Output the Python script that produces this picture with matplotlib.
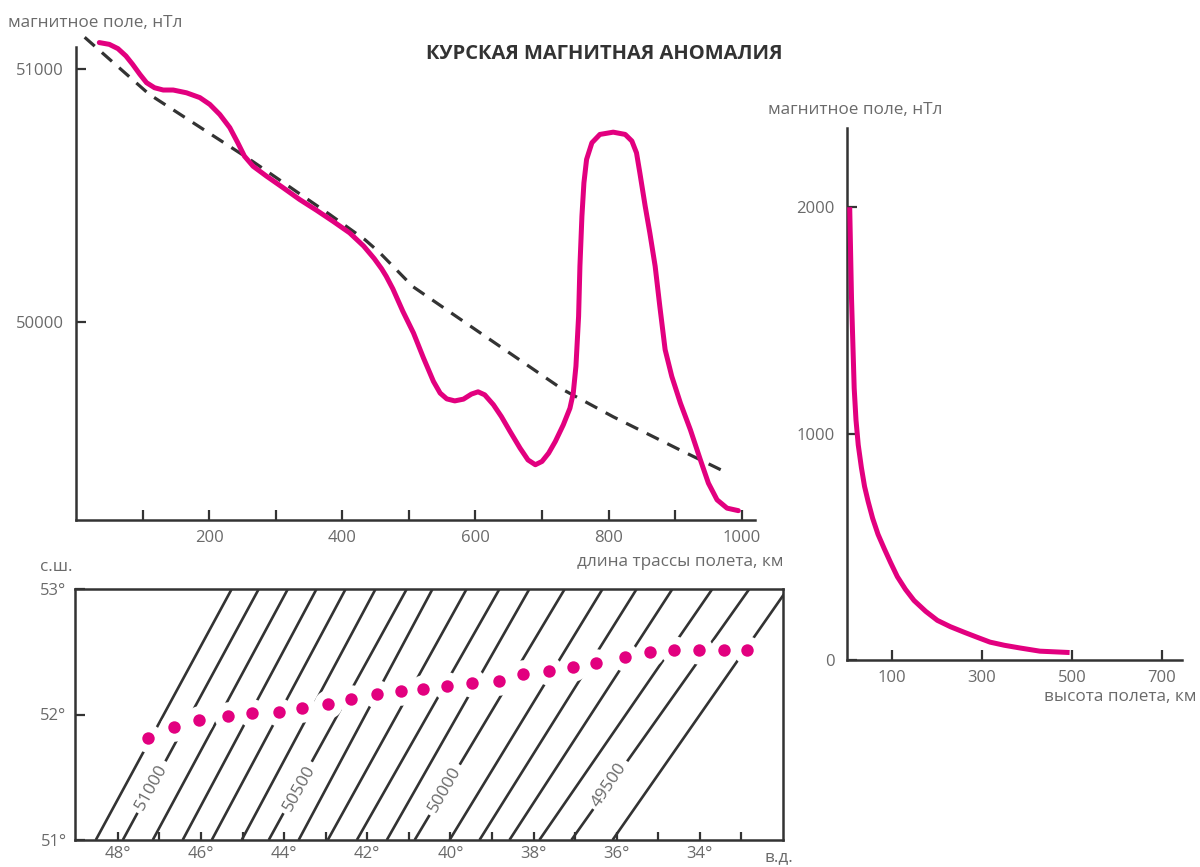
import matplotlib
matplotlib.use("Agg")
import matplotlib.pyplot as plt

plt.rcParams['font.family'] = ['Open Sans', 'DejaVu Sans']

MAGENTA = '#E2007F'
DARK = '#333333'
GRAY = '#6a6a6a'

# ---- top chart: magnetic field along flight track ----
track_km = [35, 50, 63, 75, 85, 96, 106, 118, 131, 146, 166, 186, 201, 216, 231, 243, 253, 266,
            286, 311, 336, 361, 386, 411, 432, 448, 459, 466, 476, 491, 507, 522, 537, 547, 557,
            569, 582, 594, 604, 614, 627, 639, 652, 667, 679, 690, 700, 710, 720, 732, 742, 747,
            751, 755, 757, 760, 763, 767, 775, 787, 807, 825, 835, 842, 847, 855, 862, 870, 877,
            885, 895, 908, 923, 938, 950, 963, 978, 995]
field_nT = [51106, 51099, 51082, 51053, 51020, 50980, 50947, 50927, 50918, 50918, 50907, 50888,
            50861, 50821, 50769, 50709, 50656, 50616, 50577, 50531, 50484, 50442, 50398, 50352,
            50300, 50250, 50210, 50180, 50130, 50041, 49955, 49856, 49763, 49717, 49694, 49686,
            49693, 49713, 49722, 49710, 49671, 49624, 49565, 49499, 49452, 49433, 49446, 49479,
            49525, 49591, 49657, 49717, 49823, 50021, 50220, 50418, 50550, 50643, 50709, 50742,
            50751, 50742, 50716, 50669, 50590, 50458, 50352, 50220, 50061, 49889, 49783, 49677,
            49571, 49452, 49360, 49294, 49261, 49251]
trend_km = [13, 110, 261, 381, 434, 456, 506, 607, 732, 807, 907, 978]
trend_nT = [51127, 50901, 50643, 50425, 50325, 50274, 50139, 49956, 49730, 49623, 49492, 49401]
top_xticks = [100, 200, 300, 400, 500, 600, 700, 800, 900, 1000]
top_xlabels = ['', '200', '', '400', '', '600', '', '800', '', '1000']
top_yticks = [50000, 51000]

# ---- right chart: field vs flight altitude ----
alt_km = [6, 8, 10, 13, 16, 20, 25, 32, 39, 47, 57, 69, 83, 97, 112, 130, 149, 175, 201, 230,
          260, 290, 318, 350, 385, 429, 495]
alt_field = [2000, 1800, 1600, 1400, 1200, 1060, 950, 850, 767, 700, 626, 555, 491, 430, 368,
             312, 263, 215, 175, 147, 123, 100, 79, 65, 53, 39, 33]
alt_xticks = [100, 300, 500, 700]
alt_yticks = [0, 1000, 2000]

# ---- map: isolines and track points ----
iso_values = [51100, 51000, 50900, 50800, 50700, 50600, 50500, 50400, 50300, 50200,
              50100, 50000, 49900, 49800, 49700, 49600, 49500, 49400]
iso_lon_south = [48.53, 47.88, 47.16, 46.44, 45.74, 45.02, 44.37, 43.65, 42.95, 42.25,
                 41.53, 40.86, 40.02, 39.30, 38.58, 37.86, 37.09, 36.10]
iso_lon_north = [45.26, 44.61, 43.91, 43.22, 42.52, 41.80, 41.05, 40.43, 39.61, 38.82,
                 38.10, 37.25, 36.34, 35.52, 34.66, 33.70, 32.81, 31.89]
label_values = [51000, 50500, 50000, 49500]
label_lon = [47.18, 43.63, 40.14, 36.17]
label_lat = [51.42, 51.41, 51.40, 51.44]
label_rot = [61, 61, 60, 56]
pt_lon = [47.28, 46.65, 46.05, 45.36, 44.78, 44.13, 43.58, 42.95, 42.38, 41.77, 41.20, 40.67,
          40.09, 39.47, 38.84, 38.26, 37.62, 37.06, 36.49, 35.81, 35.19, 34.61, 34.01, 33.41, 32.86]
pt_lat = [51.81, 51.90, 51.96, 51.99, 52.01, 52.02, 52.05, 52.08, 52.12, 52.16, 52.19, 52.20,
          52.23, 52.25, 52.27, 52.32, 52.35, 52.38, 52.41, 52.46, 52.50, 52.51, 52.51, 52.51, 52.51]
map_xticks = list(range(48, 32, -1))
map_yticks = [51, 52, 53]

W, H = 1200, 867
fig = plt.figure(figsize=(W / 100, H / 100), dpi=100)
LBL = 12.3
TCK = 12


def frac(l, t, r, b):
    return [l / W, 1 - b / H, (r - l) / W, (b - t) / H]


def style_axis(ax):
    for s in ax.spines.values():
        s.set_color(DARK)
        s.set_linewidth(1.8)
    ax.tick_params(direction='in', color=DARK, width=1.6, labelcolor=GRAY, labelsize=TCK)


# ---------- top chart ----------
ax1 = fig.add_axes(frac(76, 34, 755, 520))
style_axis(ax1)
ax1.set_xlim(0, 1020)
ax1.set_ylim(49214, 51140)
ax1.spines['top'].set_visible(False)
ax1.spines['right'].set_visible(False)
ax1.spines['left'].set_bounds(49214, 51087)
ax1.plot(trend_km, trend_nT, color=DARK, lw=2.3, ls=(0, (4.2, 3.0)), zorder=2)
ax1.plot(track_km, field_nT, color=MAGENTA, lw=3.6, solid_capstyle='round',
         solid_joinstyle='round', zorder=3)
ax1.set_xticks(top_xticks)
ax1.set_xticklabels(top_xlabels)
ax1.set_yticks(top_yticks)
ax1.set_yticklabels([str(v) for v in top_yticks])
ax1.tick_params(axis='x', length=7, pad=7)
ax1.tick_params(axis='y', length=7, pad=9)

fig.text(8 / W, 1 - 23 / H, 'магнитное поле, нТл', color=GRAY, fontsize=LBL, va='center', ha='left')
fig.text(604 / W, 1 - 54 / H, 'КУРСКАЯ МАГНИТНАЯ АНОМАЛИЯ', color=DARK, fontsize=14.5,
         fontweight='bold', ha='center', va='center')
fig.text(783 / W, 1 - 562 / H, 'длина трассы полета, км', color=GRAY, fontsize=LBL,
         ha='right', va='center')

# ---------- right chart ----------
ax2 = fig.add_axes(frac(847, 128, 1182, 660))
style_axis(ax2)
ax2.set_xlim(0, 745)
ax2.set_ylim(0, 2350)
ax2.spines['top'].set_visible(False)
ax2.spines['right'].set_visible(False)
ax2.plot(alt_km, alt_field, color=MAGENTA, lw=3.6, solid_capstyle='butt',
         solid_joinstyle='round', zorder=3)
ax2.set_xticks(alt_xticks)
ax2.set_yticks(alt_yticks)
ax2.tick_params(axis='x', length=7, pad=7)
ax2.tick_params(axis='y', length=7, pad=9)
fig.text(768 / W, 1 - 110 / H, 'магнитное поле, нТл', color=GRAY, fontsize=LBL, va='center', ha='left')
fig.text(1196 / W, 1 - 697 / H, 'высота полета, км', color=GRAY, fontsize=LBL,
         ha='right', va='center')

# ---------- map ----------
ax3 = fig.add_axes(frac(75, 589, 783, 840))
style_axis(ax3)
ax3.set_xlim(49.03, 32.0)
ax3.set_ylim(51, 53)
for v, ls, ln in zip(iso_values, iso_lon_south, iso_lon_north):
    ax3.plot([ls, ln], [51, 53], color=DARK, lw=1.9, zorder=1, solid_capstyle='butt')
ax3.scatter(pt_lon, pt_lat, s=420, color='white', zorder=2, linewidths=0)
ax3.scatter(pt_lon, pt_lat, s=80, color=MAGENTA, zorder=4, linewidths=0)
for v, lo, la, r in zip(label_values, label_lon, label_lat, label_rot):
    ax3.text(lo, la, str(v), rotation=r, rotation_mode='anchor', ha='center', va='center',
             color=GRAY, fontsize=12.5, zorder=3,
             bbox=dict(boxstyle='square,pad=0.25', fc='white', ec='none'))
ax3.set_xticks(map_xticks)
ax3.set_xticklabels([f'{t}°' if t % 2 == 0 else '' for t in map_xticks])
ax3.set_yticks(map_yticks)
ax3.set_yticklabels([f'{t}°' for t in map_yticks])
ax3.tick_params(axis='x', length=6, pad=4)
ax3.tick_params(axis='y', length=7, pad=6)
fig.text(40 / W, 1 - 567 / H, 'с.ш.', color=GRAY, fontsize=LBL, ha='left', va='center')
fig.text(765 / W, 1 - 857 / H, 'в.д.', color=GRAY, fontsize=LBL, ha='left', va='center')

fig.savefig('out.png', dpi=100, facecolor='white')
